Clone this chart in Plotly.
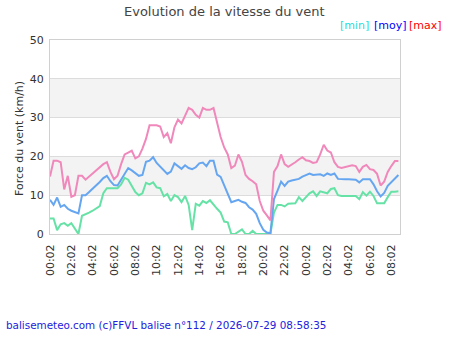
import datetime as dt
import plotly.graph_objects as go

start = dt.datetime(2026, 7, 28, 0, 2)
step_min = 20

vmax = [14.8, 18.9, 18.9, 18.5, 11.5, 15, 9.6, 10, 15, 15, 14, 14.8, 15.5, 16.3, 17, 18, 18.5, 16, 14.1, 15,
        18, 20.5, 21, 21.5, 19.5, 20, 22, 24.5, 28, 28, 28, 27.7, 25, 26, 23.4, 27.5, 29.5, 28.5, 30.5, 32.5,
        32, 30.7, 30, 32.5, 32, 32, 32.5, 28.5, 25, 22.3, 20.5, 17, 17.6, 20.5, 18.6, 15.2, 14.2, 13.6, 12.8, 8.5,
        6, 4.8, 3.5, 16, 17.5, 20.5, 18, 17.3, 17.8, 18.5, 19.2, 19.8, 19, 18.8, 18.3, 18.5, 20.5, 23, 21.5, 21,
        18.5, 17.3, 17, 17.2, 17.5, 17.7, 17.5, 16, 17.3, 17.8, 16.7, 16.5, 15.5, 12.5, 13.5, 16, 17.5, 18.8, 18.8]

vmoy = [8.8, 7.5, 9.4, 7, 7.5, 6.5, 6, 5.6, 5.3, 10, 10, 10.8, 11.6, 12.5, 13.4, 14.4, 15, 13.6, 12.6, 12.5,
        14, 15.5, 17, 16.4, 15.6, 15, 15.2, 18.6, 18.9, 19.8, 18.3, 17.3, 16.5, 15.5, 16.1, 18.2, 17.5, 16.8, 17.7, 17,
        16.7, 17.2, 18.2, 18.4, 17.5, 18.9, 18.9, 15.3, 14.7, 12.4, 10.6, 8.2, 8.5, 8.8, 8.3, 8, 6.9, 6.3, 5.2, 2.8,
        1.1, 0.4, 0.2, 9, 11.2, 13.5, 12.4, 13.5, 13.8, 14, 14.2, 14.8, 15.2, 15.6, 15.2, 15.3, 15.4, 15, 15.6, 15.2,
        15.6, 14.2, 14.1, 14.1, 14.1, 14.1, 14, 13.3, 14.1, 14.1, 14.1, 12.8, 11, 9.7, 10.6, 12.4, 13.3, 14.3, 15.2]

vmin = [4, 4, 1, 2.5, 2.8, 2.1, 2.8, 1.5, 0, 4.7, 5, 5.5, 6, 6.6, 7.2, 10.5, 11.8, 11.8, 11.8, 11.8,
        12.8, 14.5, 14, 12.2, 10.8, 10, 10.5, 13.2, 12.8, 13.3, 12, 11.8, 9.7, 10.3, 8.5, 10, 9.5, 8.2, 9.8, 7.5,
        1, 7.8, 7.3, 8.5, 8, 8.7, 7.5, 6.5, 5.5, 3.2, 3, 0, 0, 0.5, 1.2, 0, 0, 0.8, 0, 0,
        0, 0, 0, 5.5, 7.5, 7.5, 7.1, 7.8, 7.9, 7.9, 9.5, 8.5, 9.5, 10.5, 11, 9.8, 11, 10.8, 10.5, 11.6,
        11.8, 10, 9.8, 9.8, 9.8, 9.8, 9.8, 9, 10.8, 9.9, 10.9, 9.8, 7.9, 7.9, 7.9, 9.5, 10.9, 10.9, 11]

times = [start + dt.timedelta(minutes=step_min * i) for i in range(len(vmax))]

legend_labels = ["[min]", "[moy]", "[max]"]
legend_colors = ["#22dddd", "#0000ff", "#ff0000"]

FONT = "DejaVu Sans"

fig = go.Figure()
fig.add_trace(go.Scatter(x=times, y=vmin, mode="lines", line=dict(color="#66e2a6", width=2), hoverinfo="skip"))
fig.add_trace(go.Scatter(x=times, y=vmoy, mode="lines", line=dict(color="#66a6f0", width=2), hoverinfo="skip"))
fig.add_trace(go.Scatter(x=times, y=vmax, mode="lines", line=dict(color="#f088bb", width=2), hoverinfo="skip"))

shapes = []
for lo, hi in [(10, 20), (30, 40)]:
    shapes.append(dict(type="rect", xref="paper", yref="y", x0=0, x1=1, y0=lo, y1=hi,
                       fillcolor="#f3f3f3", line=dict(width=0), layer="below"))

W, H = 450, 350
L, R, T, B = 50, 50, 40, 116
pw, ph = W - L - R, H - T - B

def px(x):
    return (x - L) / pw

def py(y):
    return (H - B - y) / ph

annotations = [
    dict(text="Evolution de la vitesse du vent", xref="paper", yref="paper", x=px(224), y=py(11),
         xanchor="center", yanchor="middle", showarrow=False, font=dict(family=FONT, size=13, color="#444444")),
    dict(text="Force du vent (km/h)", xref="paper", yref="paper", x=px(19), y=py(139), textangle=-90,
         xanchor="center", yanchor="middle", showarrow=False, font=dict(family=FONT, size=11, color="#333333")),
    dict(text="balisemeteo.com (c)FFVL balise n°112 / 2026-07-29 08:58:35", xref="paper", yref="paper",
         x=px(4), y=py(325), xanchor="left", yanchor="middle", showarrow=False,
         font=dict(family=FONT, size=10.4, color="#2222dd")),
]
leg_x = [354, 390, 425]
for lbl, col, x in zip(legend_labels, legend_colors, leg_x):
    annotations.append(dict(text=lbl, xref="paper", yref="paper", x=px(x), y=py(25), xanchor="center",
                            yanchor="middle", showarrow=False, font=dict(family=FONT, size=11, color=col)))

fig.update_layout(
    width=W, height=H, margin=dict(l=L, r=R, t=T, b=B, pad=0),
    paper_bgcolor="white", plot_bgcolor="white", showlegend=False,
    font=dict(family=FONT, size=11, color="#333333"),
    shapes=shapes, annotations=annotations,
    xaxis=dict(type="date", range=[start, dt.datetime(2026, 7, 29, 8, 51)],
               tick0=start, dtick=2 * 3600 * 1000, tickformat="%H:%M", tickangle=-90,
               showgrid=False, zeroline=False, showline=True, linecolor="#d0d0d0", linewidth=1, mirror=True,
               ticks="", ticklabelstandoff=5, tickfont=dict(family=FONT, size=11, color="#333333")),
    yaxis=dict(range=[0, 50], dtick=10, showgrid=True, gridcolor="#dcdcdc", gridwidth=1, zeroline=False,
               showline=True, linecolor="#d0d0d0", linewidth=1, mirror=True, ticks="", ticklabelstandoff=3,
               tickfont=dict(family=FONT, size=11, color="#333333")),
)

fig.write_html("out.html")
